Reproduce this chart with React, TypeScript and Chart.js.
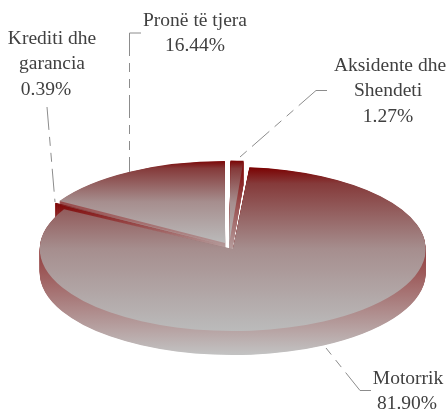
import React, { useEffect, useRef } from "react";
import { Chart, registerables } from "chart.js";

Chart.register(...registerables);

const categories = ["Aksidente dhe Shendeti", "Motorrik", "Krediti dhe garancia", "Pronë të tjera"];
const shares = [1.27, 81.9, 0.39, 16.44];

const labelBlocks = [
  { lines: ["Aksidente dhe", "Shendeti", "1.27%"], x: [390, 388, 388], y: [71, 96, 122] },
  { lines: ["Motorrik", "81.90%"], x: [408, 407], y: [384, 409] },
  { lines: ["Krediti dhe", "garancia", "0.39%"], x: [52, 52, 46], y: [44, 69, 95] },
  { lines: ["Pronë të tjera", "16.44%"], x: [195, 195], y: [26, 51] },
];

const leaderStubs = [
  [[327, 90.5], [316, 90.5]],
  [[371, 390.5], [360, 390.5]],
  [],
  [[141, 33], [129.5, 33]],
];
const leaderRuns = [
  [[316, 90.5], [240, 157]],
  [[360, 390.5], [326, 348]],
  [[47, 107], [55, 202]],
  [[129.5, 33], [129.5, 172]],
];

const topBands = [
  [160, 245],
  [167, 331],
  [203, 246],
  [160, 244],
];
const wallBands = [
  [160, 270],
  [202, 354],
  [203, 272],
  [160, 270],
];

const drawOrder = [3, 0, 2, 1];
const FLAT = 0.425;
const CY = 246;
const DEPTH = 24;
const EXPLODE = 8;
const RADIUS = 193;

const pie3d = {
  id: "pie3d",
  beforeDatasetsDraw(chart: any) {
    const ctx = chart.ctx;
    const arcs = chart.getDatasetMeta(0).data;
    const gradient = (arc: any, top: number, bottom: number, d: number, stops: [number, string][]) => {
      const half = (arc.startAngle + arc.endAngle) / 2;
      const off = Math.sin(half) * EXPLODE;
      const conv = (s: number) => arc.y + (s - d - CY) / FLAT - off;
      const g = ctx.createLinearGradient(0, conv(top), 0, conv(bottom));
      stops.forEach(([p, c]) => g.addColorStop(p, c));
      return g;
    };
    const paint = (arc: any, fill: any, d: number) => {
      // The arc grows by its offset scaled with 1 - sin(sweep): hold all slices at one radius.
      const fix = 1 - Math.sin(Math.min(Math.PI, arc.circumference));
      const ghost = Object.create(arc);
      ghost.options = { ...arc.options, backgroundColor: fill };
      ghost.outerRadius = RADIUS - EXPLODE * fix;
      ctx.save();
      ctx.translate(0, CY + d);
      ctx.scale(1, FLAT);
      ctx.translate(0, -arc.y);
      ghost.draw(ctx);
      ctx.restore();
    };
    for (const i of drawOrder) {
      const arc = arcs[i];
      for (let d = DEPTH; d > 0; d -= 0.5) {
        paint(arc, gradient(arc, wallBands[i][0], wallBands[i][1], d, [[0, "#7d0000"], [1, "#c2c2c2"]]), d);
      }
      paint(arc, gradient(arc, topBands[i][0], topBands[i][1], 0, [[0, "#7a0000"], [0.1, "#853a3a"], [0.5, "#a68e8e"], [1, "#bbbbbb"]]), 0);
    }
    return false;
  },
  afterDraw(chart: any) {
    const ctx = chart.ctx;
    const stroke = (path: number[][]) => {
      if (!path.length) return;
      ctx.beginPath();
      path.forEach(([x, y], i) => (i ? ctx.lineTo(x, y) : ctx.moveTo(x, y)));
      ctx.stroke();
    };
    ctx.save();
    ctx.strokeStyle = "#8c8c8c";
    ctx.lineWidth = 1;
    leaderStubs.forEach(stroke);
    ctx.setLineDash([23, 7, 9, 7, 9, 7]);
    leaderRuns.forEach(stroke);
    ctx.setLineDash([]);
    ctx.fillStyle = "#404040";
    ctx.font = "19.5px 'Liberation Serif'";
    ctx.textAlign = "center";
    ctx.textBaseline = "alphabetic";
    for (const b of labelBlocks) {
      b.lines.forEach((t, i) => ctx.fillText(t, b.x[i], b.y[i]));
    }
    ctx.restore();
  },
};

export default function App() {
  const ref = useRef<HTMLCanvasElement>(null);
  useEffect(() => {
    const chart = new Chart(ref.current as HTMLCanvasElement, {
      type: "pie",
      data: {
        labels: categories,
        datasets: [{ data: shares, backgroundColor: "#a08080", borderWidth: 0, offset: EXPLODE * 4, clip: false } as any],
      },
      options: {
        responsive: false,
        animation: false,
        radius: RADIUS,
        layout: { padding: { left: 10 } },
        plugins: { legend: { display: false }, tooltip: { enabled: false } },
      } as any,
      plugins: [pie3d as any],
    });
    return () => chart.destroy();
  }, []);
  return (
    <div style={{ position: "absolute", left: 0, top: 0, width: 448, height: 410, background: "#fff" }}>
      <canvas ref={ref} width={448} height={410} style={{ display: "block" }} />
    </div>
  );
}
